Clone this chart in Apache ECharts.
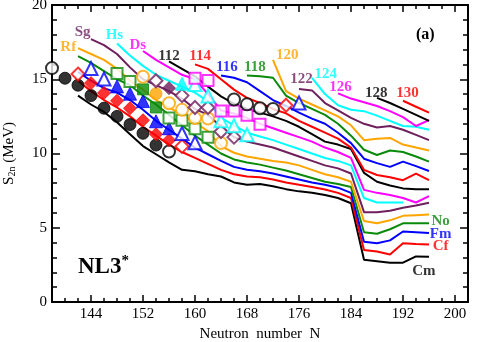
<!DOCTYPE html>
<html><head><meta charset="utf-8">
<script src="https://cdn.jsdelivr.net/npm/echarts@6/dist/echarts.min.js"></script>
<style>html,body{margin:0;padding:0;background:#fff}#c{width:480px;height:342px}</style>
</head><body><div id="c"></div>
<script>
// ---- tick labels ----
const xTickLabels = [144,152,160,168,176,184,192,200];
const yTickLabels = [0,5,10,15,20];

// ---- colours ----
const C = {black:'#000000', red:'#ff0000', blue:'#0000ff', green:'#0a8a0a', orange:'#ffa500', purple:'#6e1f5c', cyan:'#00ffff', magenta:'#ff00ff'};

// ---- isotopic chains (N, S2n) ----
const cmLine = [[142,13.9],[144,13.3],[146,12.8],[148,12.1],[150,11.3],[152,10.5],[154,9.95],[156,9.4],[158,8.9],[160,8.8],[162,8.6],[164,8.45],[166,8.05],[168,7.9],[170,7.95],[172,7.8],[174,7.6],[176,7.45],[178,7.35],[180,7.2],[182,7.0],[184,6.65],[186,2.85],[188,2.75],[190,2.65],[192,2.65],[194,3.07],[196,3.05]];
const cfLine = [[142,14.9],[144,14.2],[146,13.6],[148,13.1],[150,12.5],[152,11.8],[154,11.2],[156,10.6],[158,10.1],[160,9.7],[162,9.3],[164,8.9],[166,8.6],[168,8.45],[170,8.4],[172,8.25],[174,8.05],[176,7.9],[178,7.75],[180,7.57],[182,7.35],[184,7.0],[186,3.5],[188,3.4],[190,3.2],[192,3.95],[194,3.9],[196,3.88]];
const fmLine = [[142,15.5],[144,14.9],[146,14.4],[148,14.1],[150,13.6],[152,12.95],[154,12.2],[156,11.6],[158,11.0],[160,10.4],[162,9.95],[164,9.5],[166,9.1],[168,8.9],[170,8.8],[172,8.65],[174,8.45],[176,8.25],[178,8.05],[180,7.9],[182,7.7],[184,7.35],[186,4.05],[188,3.95],[190,4.15],[192,4.75],[194,4.7],[196,4.65]];
const noLine = [[142,16.55],[144,16.1],[146,15.55],[148,15.0],[150,14.6],[152,13.9],[154,13.3],[156,12.6],[158,11.9],[160,11.2],[162,10.6],[164,10.0],[166,9.6],[168,9.4],[170,9.25],[172,9.05],[174,8.85],[176,8.6],[178,8.35],[180,8.1],[182,7.95],[184,7.75],[186,4.7],[188,4.6],[190,4.9],[192,5.3],[194,5.3],[196,5.3]];
const rfLine = [[142,17.1],[144,16.7],[146,16.3],[148,15.7],[150,14.9],[152,14.3],[154,13.6],[156,13.1],[158,12.6],[160,12.1],[162,11.5],[164,10.5],[166,10.05],[168,9.8],[170,9.65],[172,9.5],[174,9.4],[176,9.2],[178,8.9],[180,8.6],[182,8.4],[184,8.1],[186,5.45],[188,5.3],[190,5.5],[192,5.8],[194,5.85],[196,5.9]];
const sgLine = [[144,17.7],[146,17.3],[148,16.7],[150,15.8],[152,15.0],[154,14.6],[156,14.2],[158,13.7],[160,13.0],[162,12.6],[164,11.8],[166,11.1],[168,10.8],[170,10.6],[172,10.4],[174,10.1],[176,9.8],[178,9.5],[180,9.2],[182,9.0],[184,8.65],[186,6.05],[188,6.05],[190,6.15],[192,6.35],[194,6.5],[196,6.69]];
const hsLine = [[148,17.4],[150,16.6],[152,15.9],[154,15.3],[156,14.9],[158,14.5],[160,14.1],[162,13.5],[164,12.4],[166,11.9],[168,11.4],[170,11.15],[172,10.9],[174,10.6],[176,10.3],[178,10.0],[180,9.7],[182,9.5],[184,9.2],[186,7.0],[188,6.7],[190,6.7],[192,6.7]];
const dsLine = [[152,16.9],[154,16.3],[156,15.8],[158,15.3],[160,15.0],[162,14.0],[164,12.9],[166,12.7],[168,12.4],[170,12.0],[172,11.7],[174,11.4],[176,11.1],[178,10.8],[180,10.4],[182,10.1],[184,9.7],[186,7.55],[188,7.35],[190,7.2],[192,7.0],[194,6.7],[196,7.13]];
const z112Line = [[156,16.2],[158,15.7],[160,15.2],[162,14.5],[164,13.85],[166,13.35],[168,13.0],[170,12.75],[172,12.5],[174,12.2],[176,11.8],[178,11.3],[180,10.8],[182,10.6],[184,10.3],[186,8.7],[188,8.1],[190,7.85],[192,7.65],[194,7.6],[196,7.6]];
const z114Line = [[160,16.0],[162,15.7],[164,15.0],[166,14.3],[168,13.75],[170,13.4],[172,13.0],[174,12.7],[176,12.2],[178,11.8],[180,11.4],[182,11.0],[184,10.4],[186,8.9],[188,8.55],[190,8.4],[192,8.2],[194,8.65],[196,8.2]];
const z116Line = [[164,15.25],[166,15.1],[168,14.8],[170,14.2],[172,13.6],[174,13.2],[176,12.75],[178,12.35],[180,12.0],[182,11.4],[184,10.7],[186,9.65],[188,9.35],[190,9.1],[192,9.45],[194,9.15],[196,8.82]];
const z118Line = [[168,15.25],[170,15.2],[172,15.1],[174,13.9],[176,13.4],[178,13.0],[180,12.6],[182,12.0],[184,11.2],[186,10.25],[188,9.9],[190,10.2],[192,10.1],[194,9.8],[196,9.45]];
const z120Line = [[172,16.3],[174,14.2],[176,13.7],[178,13.3],[180,12.9],[182,12.5],[184,11.9],[186,10.9],[188,11.0],[190,11.05],[192,10.6],[194,10.4],[196,10.2]];
const z122Line = [[176,14.35],[178,14.25],[180,13.4],[182,12.9],[184,12.4],[186,12.0],[188,11.75],[190,11.85],[192,11.6],[194,11.25],[196,10.9]];
const z124Line = [[178,15.1],[180,14.0],[182,13.25],[184,12.95],[186,12.85],[188,12.55],[190,12.2],[192,11.85],[194,11.8],[196,11.6]];
const z126Line = [[182,14.05],[184,13.7],[186,13.45],[188,13.2],[190,12.85],[192,12.45],[194,11.85],[196,12.25]];
const z128Line = [[188,13.75],[190,13.4],[192,13.0],[194,12.6],[196,12.2]];
const z130Line = [[192,13.55],[194,13.15],[196,12.75]];

// ---- experimental / extrapolated points: [N, S2n, filled(1) or open(0)] ----
const cmPts = [[138,15.75,0],[140,15.07,1],[142,14.6,1],[144,13.9,1],[146,13.05,1],[148,12.5,1],[150,11.95,1],[152,11.36,1],[154,10.57,1],[156,10.13,0]];
const cfPts = [[142,15.35,0],[144,14.74,1],[146,14.08,1],[148,13.55,1],[150,13.05,1],[152,12.24,1],[154,11.3,1],[156,10.9,1],[158,10.48,0]];
const fmPts = [[144,15.72,0],[146,15.02,0],[148,14.52,1],[150,14.03,1],[152,13.53,1],[154,12.17,1],[156,11.7,1],[158,11.35,0],[160,10.72,0]];
const noPts = [[148,15.39,0],[150,14.85,0],[152,14.32,1],[154,13.1,1],[156,12.39,0],[158,12.24,0],[160,11.67,0],[162,11.1,0]];
const rfPts = [[152,15.17,0],[154,14.03,1],[156,13.38,0],[158,12.94,0],[160,12.39,0],[162,12.36,0],[164,10.7,0]];
const sgPts = [[154,14.9,0],[156,14.4,1],[158,13.9,0],[160,13.1,0],[162,13.1,0],[164,11.48,0],[166,11.1,0]];
const hsPts = [[158,14.7,1],[160,14.65,0],[162,13.87,0],[164,12.2,0],[166,11.87,0],[168,11.26,0]];
const dsPts = [[160,15.07,0],[162,14.91,0],[164,12.87,0],[166,12.87,0],[168,12.57,0],[170,11.97,0]];
const z112Pts = [[166,13.64,0],[168,13.31,0],[170,13.05,0],[172,13.0,0]];
const z114Pts = [[174,13.25,0]];
const z116Pts = [[176,13.4,0]];

// ---- text labels: [N, S2n, text, colour key] ----
const chainLabels = [
  [142.7,18.16,'Sg','purple'],[140.5,17.17,'Rf','orange'],[147.6,17.96,'Hs','cyan'],[151.2,17.3,'Ds','magenta'],
  [156.0,16.58,'112','black'],[160.8,16.58,'114','red'],[164.9,15.79,'116','blue'],[169.2,15.79,'118','green'],
  [174.2,16.64,'120','orange'],[176.4,15.0,'122','purple'],[180.1,15.33,'124','cyan'],[182.4,14.47,'126','magenta'],
  [187.9,14.08,'128','black'],[192.7,14.08,'130','red'],
  [197.8,5.46,'No','green'],[197.8,4.54,'Fm','blue'],[197.8,3.75,'Cf','red'],[195.2,2.1,'Cm','black']
];

const serif = '"Liberation Serif", "DejaVu Serif", serif';

const lines = [
  [cmLine,'black'],[cfLine,'red'],[fmLine,'blue'],[noLine,'green'],[rfLine,'orange'],[sgLine,'purple'],
  [hsLine,'cyan'],[dsLine,'magenta'],[z112Line,'black'],[z114Line,'red'],[z116Line,'blue'],[z118Line,'green'],
  [z120Line,'orange'],[z122Line,'purple'],[z124Line,'cyan'],[z126Line,'magenta'],[z128Line,'black'],[z130Line,'red']
];
const markers = [
  [cmPts,'black','circle',12],[cfPts,'red','diamond',13],[fmPts,'blue','triangle',13],[noPts,'green','rect',11],
  [rfPts,'orange','circle',12],[sgPts,'purple','diamond',13],[hsPts,'cyan','triangle',13],[dsPts,'magenta','rect',11],
  [z112Pts,'black','circle',12],[z114Pts,'red','diamond',13],[z116Pts,'blue','triangle',13]
];

const series = [];
lines.forEach(([d,c]) => series.push({type:'line', data:d, symbol:'none', z:2, silent:true,
  lineStyle:{color:C[c], width:2}, xAxisIndex:0, yAxisIndex:0}));
markers.forEach(([pts,c,sym,sz]) => series.push({type:'scatter', z:5, symbol:sym, symbolSize:sz, silent:true,
  data: pts.map(p => ({value:[p[0],p[1]], itemStyle: p[2] ? {color:C[c], borderColor:C[c], borderWidth:1}
     : {color:'#ffffff', borderColor:C[c], borderWidth:2}}))}));
series.push({type:'scatter', z:6, symbolSize:0, silent:true,
  data: chainLabels.map(l => ({value:[l[0],l[1]], label:{show:true, position:'inside', formatter:l[2],
     color:C[l[3]], fontFamily:serif, fontWeight:'bold', fontSize:15}}))});

const tickStyle = {lineStyle:{color:'#000', width:1.5}};
const X_MIN = 138, X_MAX = 202;
// minor-tick axes (every 2 neutrons)
const xMinor = {type:'value', min:X_MIN, max:X_MAX, interval:2, gridIndex:0, splitLine:{show:false},
  axisLine:{show:true, onZero:false, lineStyle:{color:'#000', width:2}},
  axisTick:{show:true, inside:true, length:4, ...tickStyle}, axisLabel:{show:false}};
// major-tick axes (at labelled values)
const xMajor = {type:'value', min:X_MIN, max:X_MAX, interval:2, gridIndex:0, splitLine:{show:false},
  axisLine:{show:false, onZero:false},
  axisTick:{show:true, inside:true, length:7, customValues:xTickLabels, ...tickStyle}};
const yBase = {type:'value', min:0, max:20, interval:5, gridIndex:0, splitLine:{show:false},
  axisLine:{show:true, onZero:false, lineStyle:{color:'#000', width:2}},
  axisTick:{show:true, inside:true, length:8, ...tickStyle},
  minorTick:{show:true, splitNumber:5, length:5, ...tickStyle}};

const option = {
  animation:false,
  backgroundColor:'#ffffff',
  grid:{left:52, right:12, top:5, bottom:40, containLabel:false, outerBoundsMode:'none'},
  xAxis:[
    {...xMinor, position:'bottom'},
    {...xMajor, position:'bottom',
      axisLabel:{show:true, customValues:xTickLabels, color:'#000', fontFamily:serif, fontSize:15, margin:5},
      name:'Neutron  number  N', nameLocation:'middle', nameGap:24,
      nameTextStyle:{color:'#000', fontFamily:serif, fontSize:15}},
    {...xMinor, position:'top'},
    {...xMajor, position:'top', axisLabel:{show:false}}
  ],
  yAxis:[
    {...yBase, position:'left',
      axisLabel:{color:'#000', fontFamily:serif, fontSize:15, margin:5,
        formatter:v => yTickLabels.includes(v) ? String(v) : ''},
      name:'{s|S}{sub|2n}{s| (MeV)}', nameLocation:'middle', nameGap:35, nameRotate:90,
      nameTextStyle:{rich:{s:{fontFamily:serif, fontSize:15, color:'#000'},
        sub:{fontFamily:serif, fontSize:10, color:'#000', verticalAlign:'bottom', padding:[6,0,0,0]}}}},
    {...yBase, position:'right', axisLabel:{show:false}}
  ],
  graphic:[
    {type:'text', left:78, top:254, style:{text:'{a|NL3}{b|*}', rich:{
      a:{fontFamily:serif, fontWeight:'bold', fontSize:23, fill:'#000'},
      b:{fontFamily:serif, fontWeight:'bold', fontSize:15, fill:'#000', verticalAlign:'top', padding:[0,0,12,0]}}}},
    {type:'text', left:416, top:27, style:{text:'(a)', fontFamily:serif, fontWeight:'bold', fontSize:16, fill:'#000'}}
  ],
  series
};
const chart = echarts.init(document.getElementById('c'), null, {renderer:'canvas'});
chart.setOption(option);
</script></body></html>
